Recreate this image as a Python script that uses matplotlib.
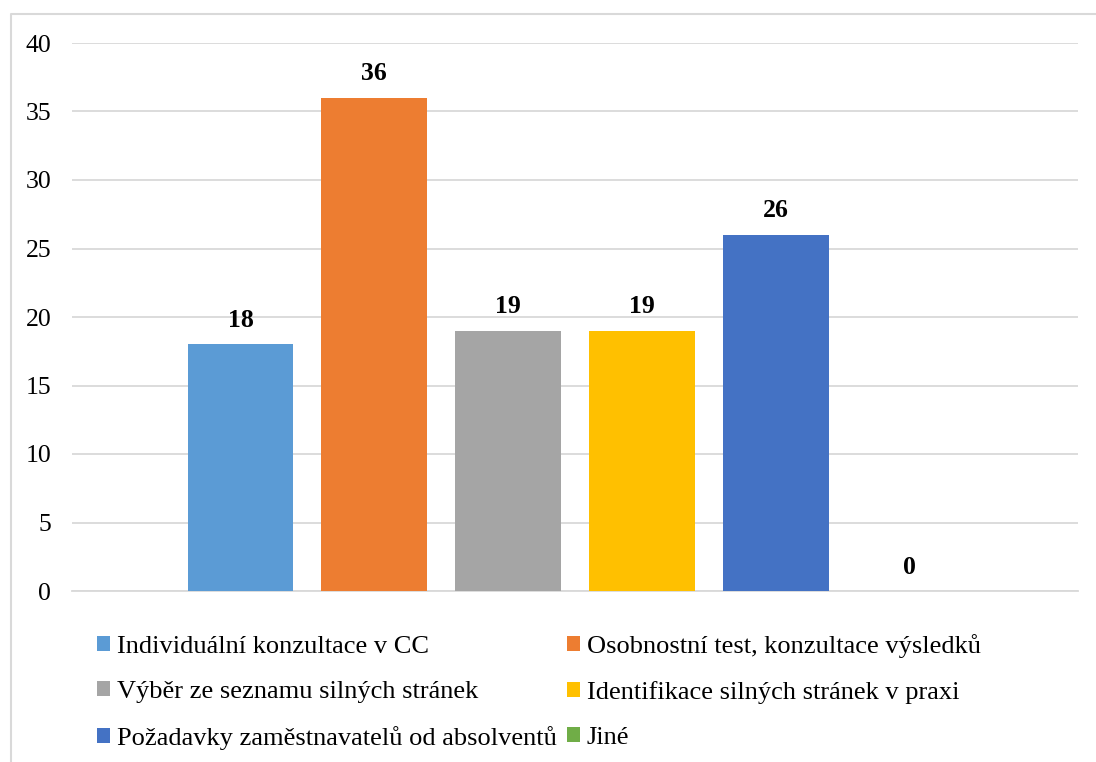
import matplotlib.pyplot as plt
from matplotlib.patches import Patch
from matplotlib.lines import Line2D
import numpy as np

# data
categories = [
    'Individuální konzultace v CC',
    'Osobnostní test, konzultace výsledků',
    'Výběr ze seznamu silných stránek',
    'Identifikace silných stránek v praxi',
    'Požadavky zaměstnavatelů od absolventů',
    'Jiné',
]
values = [18, 36, 19, 19, 26, 0]
colors = ['#5B9BD5', '#ED7D31', '#A5A5A5', '#FFC000', '#4472C4', '#70AD47']
y_ticks = [0, 5, 10, 15, 20, 25, 30, 35, 40]

plt.rcParams['font.family'] = ['Liberation Serif', 'DejaVu Serif']

W, H = 1096, 762
fig = plt.figure(figsize=(W / 100, H / 100), dpi=100)

# chart border (only top and left are inside the picture)
fig.lines.append(Line2D([11 / W, 11 / W, 1], [0, 1 - 14 / H, 1 - 14 / H],
                        transform=fig.transFigure, color='#d9d9d9', linewidth=1.5))

ax = fig.add_axes([72 / W, 1 - 591 / H, (1078 - 72) / W, (591 - 43) / H])
x = np.arange(len(categories))
bars = ax.bar(x, values, width=0.79, color=colors, zorder=3)

ax.set_ylim(0, 40)
ax.set_xlim(-1.26, len(categories) - 1 + 1.26)
ax.set_yticks(y_ticks)
ax.set_xticks([])
ax.tick_params(axis='y', length=0, pad=15, labelsize=18.5)
ax.grid(axis='y', color='#d9d9d9', linewidth=1.3, zorder=0)
for s in ['top', 'right', 'left']:
    ax.spines[s].set_visible(False)
ax.spines['bottom'].set_color('#d9d9d9')
ax.spines['bottom'].set_linewidth(1.3)

for rect, v in zip(bars, values):
    ax.annotate(f'{v}', xy=(rect.get_x() + rect.get_width() / 2, v),
                xytext=(0, 9), textcoords='offset points',
                ha='center', va='bottom', fontsize=18.5, fontweight='bold')

# legend, row-major order like Excel
handles = [Patch(facecolor=c, label=l) for c, l in zip(colors, categories)]
order = [0, 2, 4, 1, 3, 5]
fig.legend([handles[i] for i in order], [categories[i] for i in order],
           ncol=2, loc='upper left', bbox_to_anchor=(73 / W, 1 - 610 / H),
           frameon=False, fontsize=19, handlelength=0.5, handleheight=0.5,
           handletextpad=0.25, columnspacing=0.4, labelspacing=0.87)

fig.savefig('out.png', dpi=100)
